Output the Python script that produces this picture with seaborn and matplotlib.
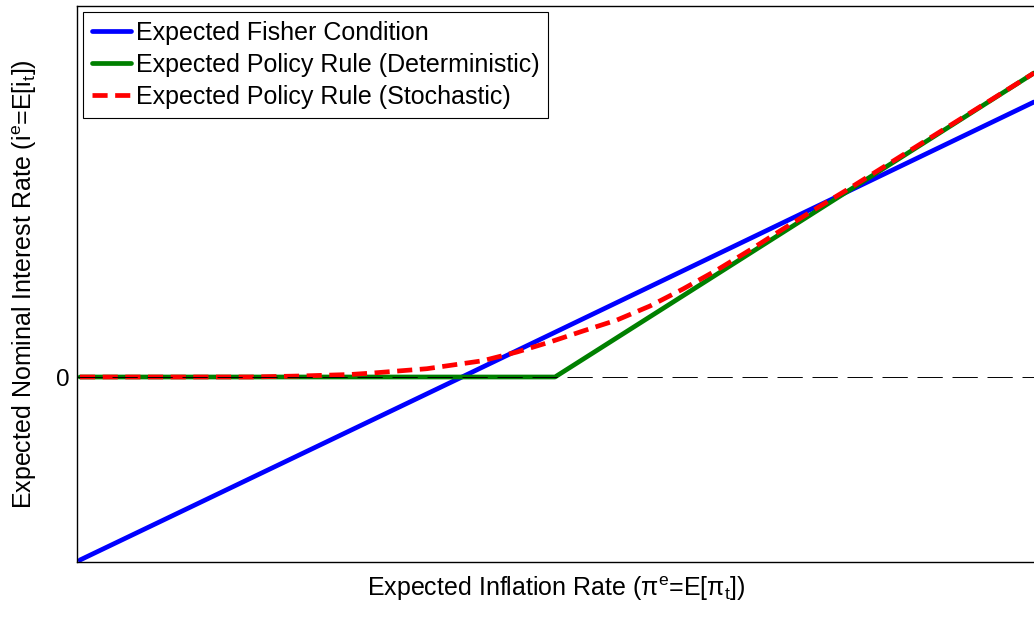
import numpy as np
import pandas as pd
import matplotlib
matplotlib.use("Agg")
import matplotlib.pyplot as plt
import seaborn as sns

# ---- data ----
fisher_x = [0.0, 3.82, 9.54]
fisher_y = [-1.83, 0.0, 2.75]

det_x = [0.0, 4.75, 9.54]
det_y = [0.0, 0.0, 3.04]

sto_x = [0.0, 1.70, 2.20, 2.70, 2.93, 3.47, 4.03, 4.37, 4.70, 5.03, 5.37,
         5.70, 6.03, 6.37, 6.70, 7.03, 7.37, 7.70, 9.54]
sto_y = [0.0, 0.0, 0.01, 0.025, 0.04, 0.083, 0.163, 0.25, 0.35, 0.46, 0.57,
         0.71, 0.88, 1.07, 1.27, 1.48, 1.69, 1.89, 3.04]

labels = ["Expected Fisher Condition",
          "Expected Policy Rule (Deterministic)",
          "Expected Policy Rule (Stochastic)"]
ytick_vals = [0]
ytick_labels = ["0"]

sns.set_style("white")
plt.rcParams['font.family'] = ['Liberation Sans', 'DejaVu Sans']
plt.rcParams['mathtext.fontset'] = 'custom'
plt.rcParams['mathtext.rm'] = 'Liberation Sans'
plt.rcParams['mathtext.it'] = 'Liberation Sans:italic'
for k in ['text.color', 'axes.labelcolor', 'xtick.color', 'ytick.color']:
    plt.rcParams[k] = 'black'

fig = plt.figure(figsize=(10.34, 6.17), dpi=100)
ax = fig.add_axes([77/1034, 55/617, 959/1034, 556/617])

lw = 3.4
sns.lineplot(x=fisher_x, y=fisher_y, ax=ax, color="#0000ff", lw=lw,
             label=labels[0], sort=False, estimator=None)
sns.lineplot(x=det_x, y=det_y, ax=ax, color="#008000", lw=lw,
             label=labels[1], sort=False, estimator=None)
sns.lineplot(x=sto_x, y=sto_y, ax=ax, color="#ff0000", lw=lw,
             label=labels[2], sort=False, estimator=None)
ax.lines[-1].set_dashes([3.2, 1.6])

ax.axhline(0, color="black", lw=0.7, dashes=(26, 10), zorder=5)

ax.set_xlim(-0.03, 9.56)
ax.set_ylim(-1.85, 3.71)
ax.set_xticks([])
ax.set_yticks(ytick_vals)
ax.set_yticklabels(ytick_labels, fontsize=17.5)
ax.tick_params(axis='y', direction='in', length=5, width=0.8, left=True, pad=5)

for s in ax.spines.values():
    s.set_visible(True)
    s.set_color("black")
    s.set_linewidth(1.0)

ax.set_xlabel(r"Expected Inflation Rate ($\mathrm{\pi^e}$=E[$\mathrm{\pi_t}$])",
              fontsize=18, labelpad=9)
ax.set_ylabel(r"Expected Nominal Interest Rate ($\mathrm{i^e}$=E[$\mathrm{i_t}$])",
              fontsize=18)
ax.yaxis.set_label_coords(-0.040, 0.50)

leg = ax.legend(loc="upper left", fontsize=18, frameon=True, fancybox=False,
                edgecolor="black", framealpha=1, handlelength=1.55,
                handletextpad=0.2, borderpad=0.35, labelspacing=0.32,
                borderaxespad=0.25)
leg.get_frame().set_linewidth(0.8)

fig.savefig("out.png", dpi=100)
